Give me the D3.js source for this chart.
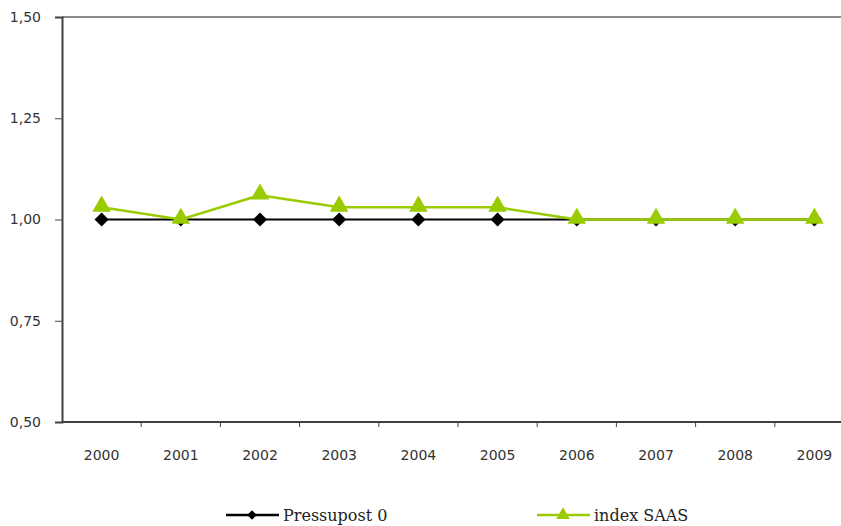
<!DOCTYPE html>
<html>
<head>
<meta charset="utf-8">
<script src="https://cdn.jsdelivr.net/npm/d3@7"></script>
<style>
body { margin: 0; background: #fff; }
</style>
</head>
<body>
<script>
var years = ["2000","2001","2002","2003","2004","2005","2006","2007","2008","2009"];
var pressupost = [1, 1, 1, 1, 1, 1, 1, 1, 1, 1];
var indexSaas = [1.03, 1.00, 1.06, 1.03, 1.03, 1.03, 1.00, 1.00, 1.00, 1.00];
var yTicks = [0.5, 0.75, 1.0, 1.25, 1.5];

var width = 841;
var height = 526;
var green = "#99cc00";

var svg = d3.select("body").append("svg")
.attr("width", width)
.attr("height", height);

var x = d3.scaleBand()
.domain(years)
.range([62, 62 + 79.2 * 10]);

var y = d3.scaleLinear()
.domain([0.5, 1.5])
.range([422, 17]);

// top border
svg.append("line")
.attr("x1", 62).attr("x2", width)
.attr("y1", y(1.5)).attr("y2", y(1.5))
.attr("stroke", "#8c8c8c")
.attr("stroke-width", 2);

// y axis
var yAxis = svg.append("g")
.attr("transform", "translate(62,0)")
.call(d3.axisLeft(y).tickValues(yTicks).tickSize(7).tickFormat(function(d){ return d3.format(".2f")(d).replace(".", ","); }));
yAxis.select(".domain").attr("stroke", "#404040").attr("stroke-width", 2);
yAxis.selectAll(".tick line").attr("stroke", "#404040");
yAxis.selectAll("text")
.attr("x", -21)
.style("font-family", "DejaVu Sans")
.style("font-size", "14px")
.attr("fill", "#333");

// x axis with ticks between categories
var xAxis = svg.append("g")
.attr("transform", "translate(0," + y(0.5) + ")");
xAxis.append("line")
.attr("x1", 62).attr("x2", width)
.attr("stroke", "#404040").attr("stroke-width", 2);
xAxis.selectAll("line.tk")
.data(years)
.enter().append("line")
.attr("class", "tk")
.attr("x1", function(d){ return x(d) + x.bandwidth(); })
.attr("x2", function(d){ return x(d) + x.bandwidth(); })
.attr("y1", 0).attr("y2", 5)
.attr("stroke", "#404040");
xAxis.selectAll("text")
.data(years)
.enter().append("text")
.attr("x", function(d){ return x(d) + x.bandwidth() / 2; })
.attr("y", 38)
.attr("text-anchor", "middle")
.style("font-family", "DejaVu Sans")
.style("font-size", "14px")
.attr("fill", "#333")
.text(function(d){ return d; });

function cx(i) { return x(years[i]) + x.bandwidth() / 2; }

var line = d3.line()
.x(function(d, i){ return cx(i); })
.y(function(d){ return y(d); });

// black series
svg.append("path")
.datum(pressupost)
.attr("d", line)
.attr("fill", "none")
.attr("stroke", "#000")
.attr("stroke-width", 2);

svg.selectAll("path.dia")
.data(pressupost)
.enter().append("path")
.attr("class", "dia")
.attr("d", d3.symbol().type(d3.symbolSquare).size(100))
.attr("transform", function(d, i){ return "translate(" + cx(i) + "," + y(d) + ") rotate(45)"; })
.attr("fill", "#000");

// green series
svg.append("path")
.datum(indexSaas)
.attr("d", line)
.attr("fill", "none")
.attr("stroke", green)
.attr("stroke-width", 2.5);

svg.selectAll("path.tri")
.data(indexSaas)
.enter().append("path")
.attr("class", "tri")
.attr("d", d3.symbol().type(d3.symbolTriangle).size(150))
.attr("transform", function(d, i){ return "translate(" + cx(i) + "," + (y(d) - 1) + ")"; })
.attr("fill", green);

// legend
var legend = [
  {name: "Pressupost 0", color: "#000", sym: d3.symbolSquare, rot: 45, size: 45, x: 226},
  {name: "index SAAS", color: green, sym: d3.symbolTriangle, rot: 0, size: 80, x: 537}
];
var lg = svg.selectAll("g.lg")
.data(legend)
.enter().append("g")
.attr("class", "lg")
.attr("transform", function(d){ return "translate(" + d.x + ",515)"; });
lg.append("line")
.attr("x1", 0).attr("x2", 53)
.attr("stroke", function(d){ return d.color; })
.attr("stroke-width", 2.5);
lg.append("path")
.attr("d", function(d){ return d3.symbol().type(d.sym).size(d.size)(); })
.attr("transform", function(d){ return "translate(26,0) rotate(" + d.rot + ")"; })
.attr("fill", function(d){ return d.color; });
lg.append("text")
.attr("x", 57)
.attr("y", 6)
.style("font-family", "DejaVu Serif")
.style("font-size", "16px")
.attr("fill", "#222")
.text(function(d){ return d.name; });
</script>
</body>
</html>
